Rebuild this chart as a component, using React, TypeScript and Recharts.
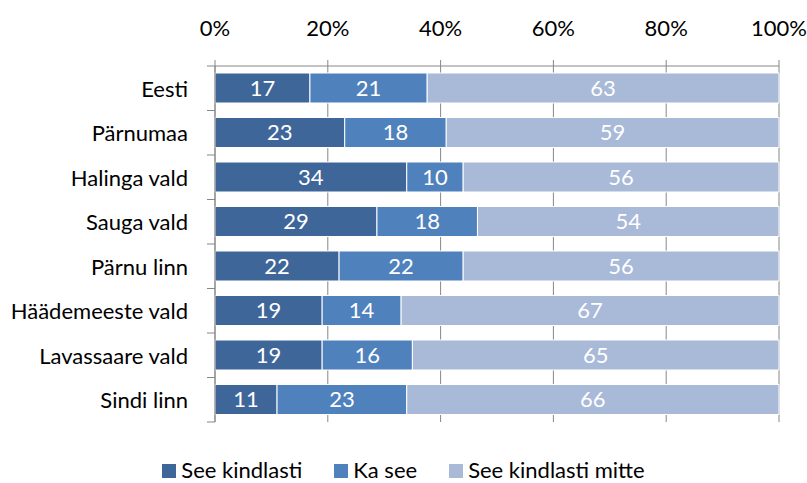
import React from "react";
import { BarChart, Bar, XAxis, YAxis, CartesianGrid, Legend, LabelList } from "recharts";

const categories = ["Eesti", "Pärnumaa", "Halinga vald", "Sauga vald", "Pärnu linn", "Häädemeeste vald", "Lavassaare vald", "Sindi linn"];
const seeKindlasti = [17, 23, 34, 29, 22, 19, 19, 11];
const kaSee = [21, 18, 10, 18, 22, 14, 16, 23];
const seeKindlastiMitte = [63, 59, 56, 54, 56, 67, 65, 66];
const xTicks = [0, 0.2, 0.4, 0.6, 0.8, 1];
const seriesNames = ["See kindlasti", "Ka see", "See kindlasti mitte"];
const colors = ["#3F6699", "#4F81BD", "#A9B9D8"];

const data = categories.map((c, i) => ({
  name: c,
  a: seeKindlasti[i],
  b: kaSee[i],
  c: seeKindlastiMitte[i],
}));

const FONT = "Lato, 'Open Sans', sans-serif";
const FS = 22;
const AXIS = "#878787";

const CatTick = (props: any) => {
  const { x, y, payload, index } = props;
  const off = payload.offset || 0;
  return (
    <g>
      <text x={x} y={y} textAnchor="end" dominantBaseline="central" fontSize={FS} fill="#000" fontFamily={FONT}>
        {payload.value}
      </text>
      <line x1={x + 19} x2={x + 27} y1={y - off} y2={y - off} stroke={AXIS} />
      {index === categories.length - 1 && (
        <line x1={x + 19} x2={x + 27} y1={y + off} y2={y + off} stroke={AXIS} />
      )}
    </g>
  );
};

const LegendContent = (props: any) => {
  const payload = [...(props.payload || [])].sort(
    (p: any, q: any) => seriesNames.indexOf(p.value) - seriesNames.indexOf(q.value)
  );
  return (
    <div style={{ display: "flex", justifyContent: "center", gap: 32, fontFamily: FONT, fontSize: FS, color: "#000", lineHeight: "22px", height: 22 }}>
      {payload.map((p: any) => (
        <div key={p.value} style={{ display: "flex", alignItems: "center" }}>
          <span style={{ width: 14, height: 14, background: p.color, display: "inline-block", marginRight: 5, marginTop: 2 }} />
          <span>{p.value}</span>
        </div>
      ))}
    </div>
  );
};

export default function App() {
  return (
    <div style={{ position: "absolute", left: 0, top: 0, width: 807, height: 483, background: "#fff" }}>
      <BarChart
        width={807}
        height={483}
        data={data}
        layout="vertical"
        stackOffset="expand"
        margin={{ top: 0, right: 28, bottom: 61, left: 0 }}
        barSize={30}
      >
        <CartesianGrid horizontal={false} vertical={true} stroke={AXIS} strokeDasharray="" />
        <XAxis
          type="number"
          orientation="top"
          domain={[0, 1]}
          ticks={xTicks}
          tickFormatter={(v: number) => `${Math.round(v * 100)}%`}
          height={66}
          stroke={AXIS}
          tickSize={6}
          tickMargin={24}
          tick={{ fill: "#000", fontSize: FS, fontFamily: FONT }}
          interval={0}
        />
        <YAxis
          type="category"
          dataKey="name"
          width={215}
          stroke={AXIS}
          tickLine={false}
          tickSize={0}
          tickMargin={27}
          tick={<CatTick />}
          interval={0}
        />
        <Legend
          verticalAlign="middle"
          align="center"
          content={<LegendContent />}
          wrapperStyle={{ top: 459, left: 0, width: 807, height: 22, bottom: "auto" }}
        />
        {(["a", "b", "c"] as const).map((k, i) => (
          <Bar key={k} dataKey={k} name={seriesNames[i]} stackId="s" fill={colors[i]} stroke="#fff" strokeWidth={1} isAnimationActive={false}>
            <LabelList dataKey={k} position="center" fill="#fff" fontSize={FS} fontFamily={FONT} />
          </Bar>
        ))}
      </BarChart>
    </div>
  );
}
